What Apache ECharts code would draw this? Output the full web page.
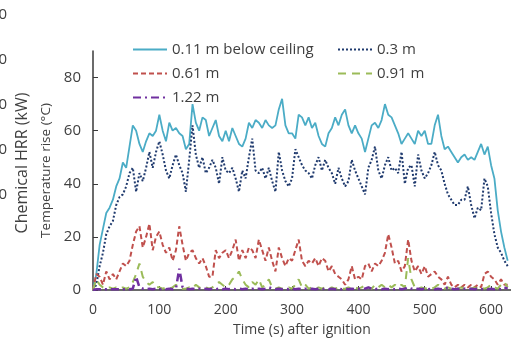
<!DOCTYPE html>
<html>
<head>
<meta charset="utf-8">
<script src="https://cdn.jsdelivr.net/npm/echarts@6/dist/echarts.min.js"></script>
<style>
html,body{margin:0;padding:0;background:#fff;}
#main{width:511px;height:342px;}
</style>
</head>
<body>
<div id="main"></div>
<script>
var times = [0,5,10,15,20,25,30,35,40,45,50,55,60,65,70,75,80,85,90,95,100,105,110,115,120,125,130,135,140,145,150,155,160,165,170,175,180,185,190,195,200,205,210,215,220,225,230,235,240,245,250,255,260,265,270,275,280,285,290,295,300,305,310,315,320,325,330,335,340,345,350,355,360,365,370,375,380,385,390,395,400,405,410,415,420,425,430,435,440,445,450,455,460,465,470,475,480,485,490,495,500,505,510,515,520,525,530,535,540,545,550,555,560,565,570,575,580,585,590,595,600,605,610,615,620,625];

var seriesNames = ["0.11 m below ceiling","0.3 m","0.61 m","0.91 m","1.22 m"];

var ceiling011 = [0,6,17,23,29,31,34,39,42,48,
46,54,62,60,55,52,56,59,58,60,
66,60,56,63,60,61,59,58,53,55,
70,63,60,65,64,58,61,64,58,56,
60,56,61,58,55,54,57,63,61,64,
63,61,64,62,61,62,68,72,62,59,
59,57,66,65,62,65,61,63,58,55,
54,59,61,65,62,66,68,62,59,62,
59,57,52,57,62,63,61,64,70,66,
65,62,59,55,57,59,57,55,60,58,
60,55,55,62,66,58,53,54,52,50,
48,50,51,49,50,49,52,55,51,54,
47,42,30,22,16,11];

var depth03 = [0,2,9,14,21,24,26,32,35,36,
39,44,46,37,44,41,46,52,46,52,
56,51,45,42,47,51,47,44,37,49,
62,51,46,50,44,46,49,46,40,50,
45,44,46,42,37,45,42,50,57,45,
44,46,42,46,41,37,52,45,41,39,
42,53,50,47,45,44,42,47,50,45,
49,46,44,40,46,42,39,41,49,45,
42,39,36,46,49,54,45,42,47,50,
45,46,44,52,40,46,47,39,51,45,
42,44,47,52,47,45,40,36,34,32,
32,34,34,39,32,27,31,30,42,39,
29,21,16,14,11,9];

var depth061 = [0,6,5,2,7,4,6,4,7,10,
9,11,17,22,24,16,20,25,15,20,
22,17,14,16,11,15,24,17,11,14,
15,12,10,12,9,5,5,15,12,14,
15,12,15,19,11,15,12,16,15,12,
19,15,11,16,11,7,16,12,9,12,
11,15,19,11,9,11,10,12,9,12,
11,7,9,6,5,4,2,4,9,4,
5,4,9,10,7,10,9,11,14,21,
16,10,11,7,9,19,11,7,9,6,
9,5,6,7,5,4,2,5,2,1,
2,1,2,1,2,1,2,1,6,7,
5,4,2,4,2,2];

var depth091 = [0,4,2,1,0.5,1,0.5,1,0.5,1,
0.5,1,3,6,10,5,3,2,3,1,
1,0.5,1,0.5,1,2,1,0.5,0.5,1,
0.5,2,1,0.5,1,0.5,1,2,3,2,
1,2,4,5,7,4,2,1,3,2,
4,1,2,4,1,0.5,1,0.5,0.5,1,
0.5,2,4,1,2,0.5,1,0.5,1,0.5,
1,0.5,1,0.5,1,0.5,0.5,1,0.5,1,
0.5,1,2,1,0.5,2,1,2,1,2,
1,2,1,2,1,12,4,1,0.5,1,
0.5,1,0.5,1,2,1,0.5,1,0.5,1,
0.5,1,0.5,1,0.5,1,0.5,1,0.5,1,
2,1,0.5,2,3,1];

var depth122 = [0,0.3,0.3,0.3,0.3,0.3,0.3,0.3,0.3,0.3,
0.3,0.3,0.5,5,1,0.5,0.3,0.5,0.3,0.5,
0.3,0.5,0.3,0.5,0.3,0.5,8,1,0.5,0.3,
0.5,0.3,0.5,0.3,0.5,0.3,0.5,0.3,0.5,0.3,
0.5,0.3,0.5,0.3,0.5,0.3,0.5,0.3,0.5,0.3,
0.5,0.3,0.5,1,0.5,0.3,0.5,0.3,0.5,0.3,
0.5,0.3,0.5,0.3,0.5,0.3,0.5,0.3,0.5,0.3,
0.5,0.3,0.5,0.3,0.5,0.3,0.5,0.3,0.5,0.3,
0.5,0.3,0.5,1,0.5,0.3,0.5,0.3,0.5,0.3,
0.5,0.3,0.5,0.3,0.5,1,0.5,0.3,0.5,0.3,
0.5,0.3,0.5,0.3,0.5,0.3,0.5,1,0.5,0.3,
0.5,0.3,0.5,0.3,0.5,0.3,0.5,0.3,0.5,0.3,
0.5,0.3,0.5,0.3,1,0.5];

var xTicks = [0,100,200,300,400,500,600];
var yTicks = [0,20,40,60,80];
var hrrTicks = [0,50,100,150,200];

function pairs(vals){ return times.map(function(t,i){ return [t, vals[i]]; }); }

var FONT = '"Open Sans", sans-serif';
var TXT = '#404040';
var chart = echarts.init(document.getElementById('main'), null, {renderer:'canvas'});

var colors = ['#4BACC6','#1F3A6E','#C0504D','#9BBB59','#7030A0'];
var dashes = ['solid',[2,2],[5,3],[8,6],[8,4,2,4]];
var widths = [1.8,2,2,2,2.5];
var allVals = [ceiling011, depth03, depth061, depth091, depth122];

var series = allVals.map(function(v,i){
  return {
    name: seriesNames[i], type:'line', data: pairs(v), showSymbol:false, symbol:'none',
    xAxisIndex:0, yAxisIndex:0, animation:false,
    lineStyle:{color:colors[i], width:widths[i], type:dashes[i]},
    itemStyle:{color:colors[i]}
  };
});

var legendCommon = {
  orient:'vertical', itemWidth:34, itemHeight:14, itemGap:9,
  itemStyle:{color:'transparent', borderWidth:0, opacity:0},
  textStyle:{fontFamily:FONT, fontSize:15, color:TXT}
};

chart.setOption({
  animation:false,
  textStyle:{fontFamily:FONT},
  grid:[
    {left:93, top:51, right:-1, bottom:49},
    {left:9, top:15, height:180, width:1}
  ],
  legend:[
    Object.assign({left:127, top:37, data:[seriesNames[0],seriesNames[2],seriesNames[4]]}, legendCommon),
    Object.assign({left:332, top:37, data:[seriesNames[1],seriesNames[3]]}, legendCommon)
  ],
  xAxis:[
    {type:'value', gridIndex:0, min:0, max:630,
     name:'Time (s) after ignition', nameLocation:'middle', nameGap:33,
     nameTextStyle:{fontFamily:FONT, fontSize:14, color:TXT},
     axisLine:{lineStyle:{color:'#3a3a3a', width:1.5}},
     axisTick:{inside:true, length:4, customValues:xTicks, lineStyle:{color:'#3a3a3a'}},
     axisLabel:{customValues:xTicks, margin:13, fontFamily:FONT, fontSize:14, color:TXT},
     splitLine:{show:false}},
    {type:'value', gridIndex:1, show:false, min:0, max:1}
  ],
  yAxis:[
    {type:'value', gridIndex:0, min:0, max:90,
     name:'Temperature rise (°C)', nameLocation:'middle', nameGap:38,
     nameTextStyle:{fontFamily:FONT, fontSize:13.5, color:TXT},
     axisLine:{show:true, lineStyle:{color:'#3a3a3a', width:1.5}},
     axisTick:{show:true, inside:true, length:5, customValues:yTicks, lineStyle:{color:'#3a3a3a'}},
     axisLabel:{customValues:yTicks, margin:12, fontFamily:FONT, fontSize:15, color:TXT},
     splitLine:{show:false}},
    {type:'value', gridIndex:1, min:0, max:200,
     axisLine:{show:false}, axisTick:{show:false}, splitLine:{show:false},
     axisLabel:{customValues:hrrTicks, margin:3, fontFamily:FONT, fontSize:15, color:TXT}}
  ],
  graphic:[
    {type:'text', x:22, y:163, rotation:Math.PI/2,
     style:{text:'Chemical HRR (kW)', fontFamily:FONT, fontSize:16, fill:TXT, textAlign:'center', textVerticalAlign:'middle'}}
  ],
  series: series
});
</script>
</body>
</html>
